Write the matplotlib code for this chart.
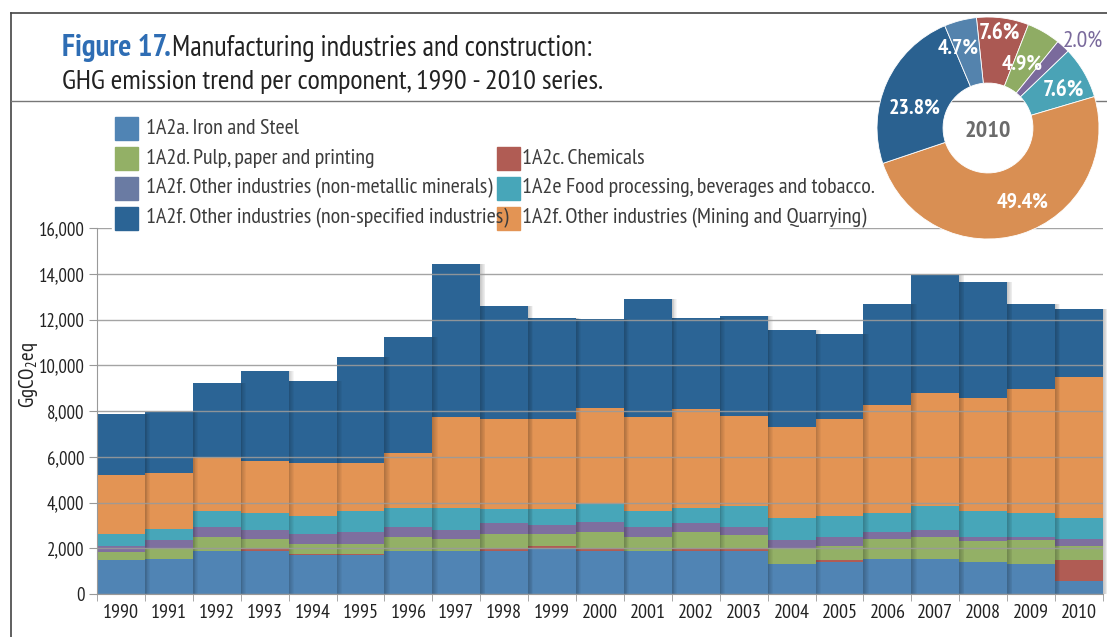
import numpy as np
import matplotlib
matplotlib.use('Agg')
import matplotlib.pyplot as plt
from matplotlib.lines import Line2D
from matplotlib.patches import Rectangle

plt.rcParams['font.family'] = ['PT Sans Narrow', 'Fira Sans Condensed', 'DejaVu Sans']
plt.rcParams['mathtext.default'] = 'regular'

years = [str(y) for y in range(1990, 2011)]

# GgCO2eq per component, stacked bottom -> top
iron_steel = [1470, 1510, 1900, 1900, 1700, 1700, 1900, 1900, 1900, 1990, 1900,
              1900, 1900, 1900, 1300, 1380, 1510, 1510, 1380, 1300, 580]
chemicals = [0, 0, 0, 90, 45, 45, 0, 0, 90, 130, 90,
             0, 90, 90, 0, 90, 0, 0, 0, 0, 890]
pulp_paper = [350, 480, 610, 430, 460, 460, 610, 520, 650, 520, 740,
              610, 740, 610, 690, 650, 910, 1000, 950, 1040, 650]
non_metallic = [300, 350, 430, 390, 430, 520, 430, 390, 480, 390, 430,
                430, 390, 350, 350, 390, 300, 300, 170, 170, 300]
food = [520, 500, 690, 740, 780, 910, 820, 950, 610, 690, 790,
        690, 650, 910, 1000, 910, 820, 1040, 1130, 1040, 910]
mining = [2550, 2440, 2380, 2250, 2290, 2080, 2420, 3980, 3940, 3940, 4180,
          4110, 4330, 3900, 3980, 4240, 4720, 4940, 4940, 5410, 6150]
non_specified = [2680, 2680, 3200, 3940, 3590, 4630, 5060, 6670, 4940, 4390, 3910,
                 5150, 3950, 4410, 4240, 3720, 4420, 5150, 5060, 3720, 2990]

series = [iron_steel, chemicals, pulp_paper, non_metallic, food, mining, non_specified]
colors = ['#5084b4', '#b05c54', '#93b066', '#7e6f9f', '#47a6b9', '#e39454', '#2b6495']

legend_rows = [
    ('1A2a. Iron and Steel', '#5084b4', None, None),
    ('1A2d. Pulp, paper and printing', '#93b066', '1A2c. Chemicals', '#b05c54'),
    ('1A2f. Other industries (non-metallic minerals)', '#6a7ba3',
     '1A2e Food processing, beverages and tobacco.', '#47a6b9'),
    ('1A2f. Other industries (non-specified industries)', '#2b6495',
     '1A2f. Other industries (Mining and Quarrying)', '#e39454'),
]

# 2010 shares for the donut, clockwise from the top
pie_labels = ['7.6%', '4.9%', '2.0%', '7.6%', '49.4%', '23.8%', '4.7%']
pie_values = [7.6, 4.9, 2.0, 7.6, 49.4, 23.8, 4.7]
pie_colors = ['#ab5953', '#8fac64', '#7a6a9c', '#4aa3b6', '#d98f53', '#2a6190', '#5483ad']

W, H = 1107, 637
fig = plt.figure(figsize=(W / 100, H / 100), dpi=100)
renderer = fig.canvas.get_renderer()


def fx(x):
    return x / W


def fy(y):
    return 1 - y / H


def fit(t, width):
    # scale font so the text spans `width` pixels
    w = t.get_window_extent(renderer).width
    t.set_fontsize(t.get_fontsize() * width / w)
    return t


# frame lines
fig.add_artist(Line2D([fx(11), fx(11)], [fy(13), fy(637)], color='#444444', lw=1.2))
fig.add_artist(Line2D([fx(11), 1], [fy(13), fy(13)], color='#444444', lw=1.2))
fig.add_artist(Line2D([fx(11), 1], [fy(101), fy(101)], color='#777777', lw=1.0))

# title
t1 = fig.text(fx(62), fy(56), 'Figure 17.', color='#2e6db4', fontsize=17,
              fontweight='bold', va='baseline')
fit(t1, 109)
t2 = fig.text(fx(172), fy(56), 'Manufacturing industries and construction:',
              color='#222222', fontsize=17, va='baseline')
fit(t2, 422)
t3 = fig.text(fx(62), fy(89), 'GHG emission trend per component, 1990 - 2010 series.',
              color='#222222', fontsize=17, va='baseline')
fit(t3, 543)

# main stacked bars
ax = fig.add_axes([fx(97), fy(594), fx(1103) - fx(97), fy(228) - fy(594)])
x = np.arange(len(years))
bottom = np.zeros(len(years))
for vals, col in zip(series, colors):
    ax.bar(x, vals, width=1.0, bottom=bottom, color=col, linewidth=0, zorder=1)
    bottom += np.array(vals)

# soft shadow on the right side of every bar
for i, tot in enumerate(bottom):
    n = 6
    for k in range(n):
        ax.add_patch(Rectangle((i + 0.5 + k * 0.018, 0), 0.018, tot,
                               color='black', alpha=0.22 * (1 - k / n),
                               linewidth=0, zorder=1.5, clip_on=False))

ax.set_xlim(-0.5, len(years) - 0.5)
ax.set_ylim(0, 16000)
ax.set_yticks(range(0, 16001, 2000))
ax.set_yticklabels([f'{v:,}' for v in range(0, 16001, 2000)])
ax.set_xticks(x)
ax.set_xticklabels(years)
ax.set_xticks(np.arange(-0.5, len(years), 1.0), minor=True)
ax.tick_params(axis='x', which='major', length=0, pad=7, labelsize=14.5, labelcolor='#222222')
ax.tick_params(axis='x', which='minor', length=5, color='#999999')
ax.tick_params(axis='y', length=6, color='#999999', labelsize=13.5, labelcolor='#222222', pad=3)
ax.set_axisbelow(False)
ax.yaxis.grid(True, color='#9a9a9a', lw=1.0, alpha=0.9)
for s in ['top', 'right']:
    ax.spines[s].set_visible(False)
for s in ['left', 'bottom']:
    ax.spines[s].set_color('#999999')
ax.set_ylabel('GgCO$_2$eq', fontsize=15, color='#222222')
ax.yaxis.set_label_coords((40 - 97) / 1006, (594 - 375) / 366)

# legend (white box hides the top grid line)
fig.add_artist(Rectangle((fx(112), fy(234)), fx(828) - fx(112), fy(108) - fy(234),
                         transform=fig.transFigure, color='white', zorder=3))
probe = fig.text(0, 0, legend_rows[2][2], fontsize=13)
fit(probe, 350)
leg_fs = probe.get_fontsize()
probe.remove()
for r, (l1, c1, l2, c2) in enumerate(legend_rows):
    yc = 128 + 30 * r
    fig.add_artist(Rectangle((fx(115), fy(yc + 11.5)), fx(23), 23 / H,
                             transform=fig.transFigure, color=c1, zorder=4))
    fig.text(fx(146), fy(yc), l1, fontsize=leg_fs, color='#3c3c3c', va='center', zorder=5)
    if l2:
        fig.add_artist(Rectangle((fx(497), fy(yc + 11.5)), fx(23), 23 / H,
                                 transform=fig.transFigure, color=c2, zorder=4))
        fig.text(fx(522), fy(yc), l2, fontsize=leg_fs, color='#3c3c3c', va='center', zorder=5)

# donut for 2010
cx, cy, rad = 988, 128, 111
pax = fig.add_axes([fx(cx - rad), fy(cy + rad), 2 * rad / W, 2 * rad / H], zorder=6)
wedges, _ = pax.pie(pie_values, colors=pie_colors, startangle=96, counterclock=False,
                    radius=1.0, wedgeprops=dict(width=0.595, edgecolor='white', linewidth=0.6))
pax.set_xlim(-1, 1)
pax.set_ylim(-1, 1)
pax.set_aspect('auto')
pax.axis('off')
yr = pax.text(0, -0.03, '2010', ha='center', va='center', fontsize=18, fontweight='bold',
              color='#6b6b6b')
fit(yr, 46)

label_pos = [(1000, 33), (1022, 64), (1083, 42), (1063, 90), (1023, 202), (915, 108), (958, 48)]
for lab, (px, py), col in zip(pie_labels, label_pos, pie_colors):
    tc = col if lab == '2.0%' else 'white'
    fw = 'normal' if lab == '2.0%' else 'bold'
    t = pax.text((px - cx) / rad, (cy - py) / rad, lab, ha='center', va='center',
                 fontsize=14, fontweight=fw, color=tc, clip_on=False)
    fit(t, 52 if len(lab) == 5 else 41)

fig.savefig('out.png', dpi=100)
